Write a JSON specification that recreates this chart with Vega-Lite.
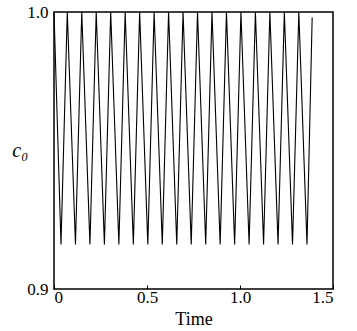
{
  "$schema": "https://vega.github.io/schema/vega-lite/v6.json",
  "autosize": "none",
  "padding": {"left": 54, "top": 12, "right": 24, "bottom": 42},
  "width": 279,
  "height": 277,
  "background": "white",
  "config": {
    "view": {"stroke": "black", "strokeWidth": 1.5},
    "font": "Liberation Serif"
  },
  "data": {
    "values": [
      {"t": 0.0, "c": 1.0},
      {"t": 0.0376, "c": 0.9161}, {"t": 0.0714, "c": 1.0},
      {"t": 0.1154, "c": 0.9161}, {"t": 0.1492, "c": 1.0},
      {"t": 0.1932, "c": 0.9161}, {"t": 0.2270, "c": 1.0},
      {"t": 0.2710, "c": 0.9161}, {"t": 0.3048, "c": 1.0},
      {"t": 0.3488, "c": 0.9161}, {"t": 0.3826, "c": 1.0},
      {"t": 0.4266, "c": 0.9161}, {"t": 0.4604, "c": 1.0},
      {"t": 0.5044, "c": 0.9161}, {"t": 0.5382, "c": 1.0},
      {"t": 0.5822, "c": 0.9161}, {"t": 0.6160, "c": 1.0},
      {"t": 0.6600, "c": 0.9161}, {"t": 0.6938, "c": 1.0},
      {"t": 0.7378, "c": 0.9161}, {"t": 0.7716, "c": 1.0},
      {"t": 0.8156, "c": 0.9161}, {"t": 0.8494, "c": 1.0},
      {"t": 0.8934, "c": 0.9161}, {"t": 0.9272, "c": 1.0},
      {"t": 0.9712, "c": 0.9161}, {"t": 1.0050, "c": 1.0},
      {"t": 1.0490, "c": 0.9161}, {"t": 1.0828, "c": 1.0},
      {"t": 1.1268, "c": 0.9161}, {"t": 1.1606, "c": 1.0},
      {"t": 1.2046, "c": 0.9161}, {"t": 1.2384, "c": 1.0},
      {"t": 1.2824, "c": 0.9161}, {"t": 1.3162, "c": 1.0},
      {"t": 1.3602, "c": 0.9161}, {"t": 1.3880, "c": 0.998}
    ]
  },
  "mark": {"type": "line", "color": "black", "strokeWidth": 1.1},
  "encoding": {
    "x": {
      "field": "t", "type": "quantitative",
      "scale": {"domain": [0, 1.5], "nice": false},
      "axis": {
        "values": [0, 0.5, 1.0, 1.5],
        "labelExpr": "datum.value == 0 ? '0' : format(datum.value, '.1f')",
        "grid": false, "domain": false,
        "tickSize": -4, "tickColor": "black", "tickWidth": 1, "labelPadding": 4,
        "labelFont": "Liberation Serif", "labelFontSize": 17, "labelColor": "black",
        "title": "Time", "titleFont": "Liberation Serif", "titleFontSize": 18,
        "titleFontWeight": "normal", "titleColor": "black", "titlePadding": 5
      }
    },
    "y": {
      "field": "c", "type": "quantitative",
      "scale": {"domain": [0.9, 1.0], "nice": false, "zero": false},
      "axis": {
        "values": [0.9, 1.0],
        "format": ".1f",
        "grid": false, "domain": false, "ticks": false,
        "labelPadding": 6,
        "labelFont": "Liberation Serif", "labelFontSize": 17, "labelColor": "black",
        "title": "c₀", "titleAngle": 0, "titleFont": "Liberation Serif",
        "titleFontStyle": "italic", "titleFontSize": 20, "titleFontWeight": "normal",
        "titleColor": "black", "titlePadding": 7, "titleBaseline": "middle"
      }
    }
  }
}
